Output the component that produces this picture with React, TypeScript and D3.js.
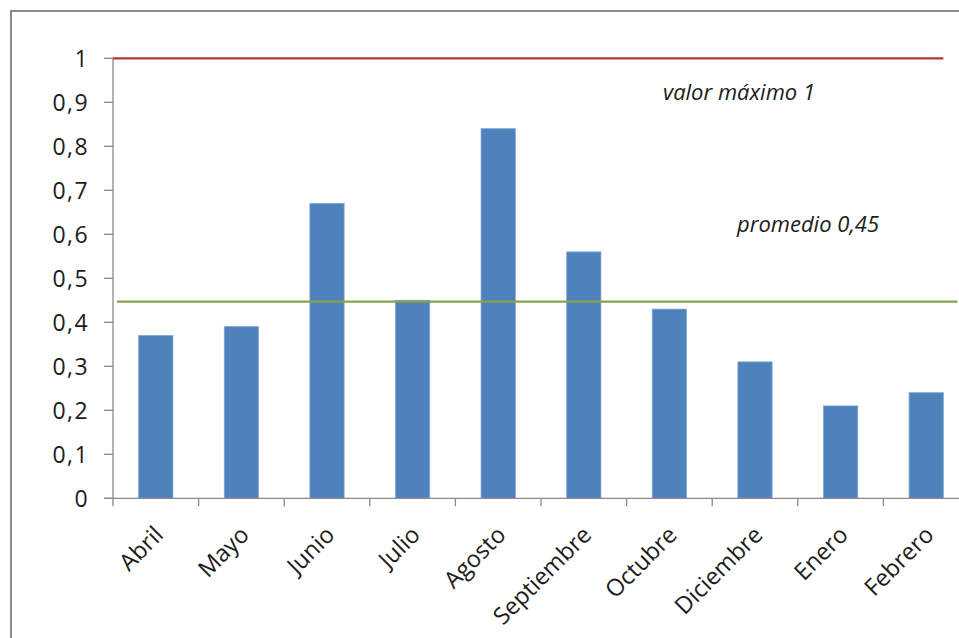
import React from "react";
import * as d3 from "d3";

// Monthly index values
const months = ["Abril", "Mayo", "Junio", "Julio", "Agosto", "Septiembre", "Octubre", "Diciembre", "Enero", "Febrero"];
const values = [0.37, 0.39, 0.67, 0.45, 0.84, 0.56, 0.43, 0.31, 0.21, 0.24];
const yTicks = [0, 0.1, 0.2, 0.3, 0.4, 0.5, 0.6, 0.7, 0.8, 0.9, 1];
const maxValue = 1;
const maxLabel = "valor máximo 1";

const W = 959;
const H = 638;
const plot = { left: 113, right: 969, top: 58.3, bottom: 498.3 };
const FONT = "'Open Sans', Lato, sans-serif";

const fmtComma = (v: number, f: string) => d3.format(f)(v).replace(".", ",");

export default function App() {
  const x = d3
    .scaleBand<string>()
    .domain(months)
    .range([plot.left, plot.right])
    .paddingInner(0.6)
    .paddingOuter(0.3);
  const step = x.step();
  const y = d3.scaleLinear().domain([0, 1]).range([plot.bottom, plot.top]);

  const mean = d3.mean(values) as number;
  const meanLabel = "promedio " + fmtComma(mean, ".2f");

  const axisColor = "#8a8a8a";
  const lastBandEnd = (x(months[months.length - 1]) as number) + x.bandwidth();

  return (
    <svg
      width={W}
      height={H}
      style={{ position: "absolute", left: 0, top: 0, background: "#fff" }}
      fontFamily={FONT}
    >
      {/* outer frame */}
      <line x1={10} y1={11} x2={W} y2={11} stroke="#8c8c8c" strokeWidth={2} />
      <line x1={11} y1={10} x2={11} y2={H} stroke="#8c8c8c" strokeWidth={2} />

      {/* bars */}
      {values.map((v, i) => (
        <rect
          key={months[i]}
          x={x(months[i])}
          y={y(v)}
          width={x.bandwidth()}
          height={y(0) - y(v)}
          fill="#4f81bd"
          stroke="#7ea3d3"
          strokeWidth={0.8}
        />
      ))}

      {/* y axis */}
      <line x1={plot.left} y1={plot.top} x2={plot.left} y2={plot.bottom} stroke={axisColor} strokeWidth={1.3} />
      {yTicks.map((t) => (
        <g key={t}>
          <line x1={plot.left - 9} x2={plot.left} y1={y(t)} y2={y(t)} stroke={axisColor} strokeWidth={1.3} />
          <text
            x={89}
            y={y(t)}
            dy="0.36em"
            textAnchor="end"
            fontSize={23}
            letterSpacing={1.4}
            fill="#1c1c1c"
          >
            {t === 0 || t === 1 ? String(t) : fmtComma(t, ".1f")}
          </text>
        </g>
      ))}

      {/* x axis */}
      <line x1={plot.left - 9} x2={plot.right} y1={plot.bottom} y2={plot.bottom} stroke={axisColor} strokeWidth={1.3} />
      {d3.range(months.length + 1).map((i) => (
        <line
          key={i}
          x1={plot.left + i * step}
          x2={plot.left + i * step}
          y1={plot.bottom}
          y2={plot.bottom + 8}
          stroke={axisColor}
          strokeWidth={1.3}
        />
      ))}
      {months.map((m) => {
        const cx = (x(m) as number) + x.bandwidth() / 2 + 9;
        const cy = plot.bottom + 38;
        return (
          <text
            key={m}
            x={cx}
            y={cy}
            textAnchor="end"
            fontSize={23.5}
            fill="#1c1c1c"
            transform={`rotate(-45 ${cx} ${cy})`}
          >
            {m}
          </text>
        );
      })}

      {/* maximum reference line */}
      <line x1={plot.left} x2={lastBandEnd} y1={y(maxValue)} y2={y(maxValue)} stroke="#b03a37" strokeWidth={2.2} />
      <text x={663} y={100} fontSize={22} fontStyle="italic" fill="#1c1c1c">
        {maxLabel}
      </text>

      {/* average line */}
      <line x1={plot.left + 4} x2={lastBandEnd + 14} y1={y(mean)} y2={y(mean)} stroke="#84a34c" strokeWidth={2.4} />
      <text x={737} y={232} fontSize={22} fontStyle="italic" fill="#1c1c1c">
        {meanLabel}
      </text>
    </svg>
  );
}
